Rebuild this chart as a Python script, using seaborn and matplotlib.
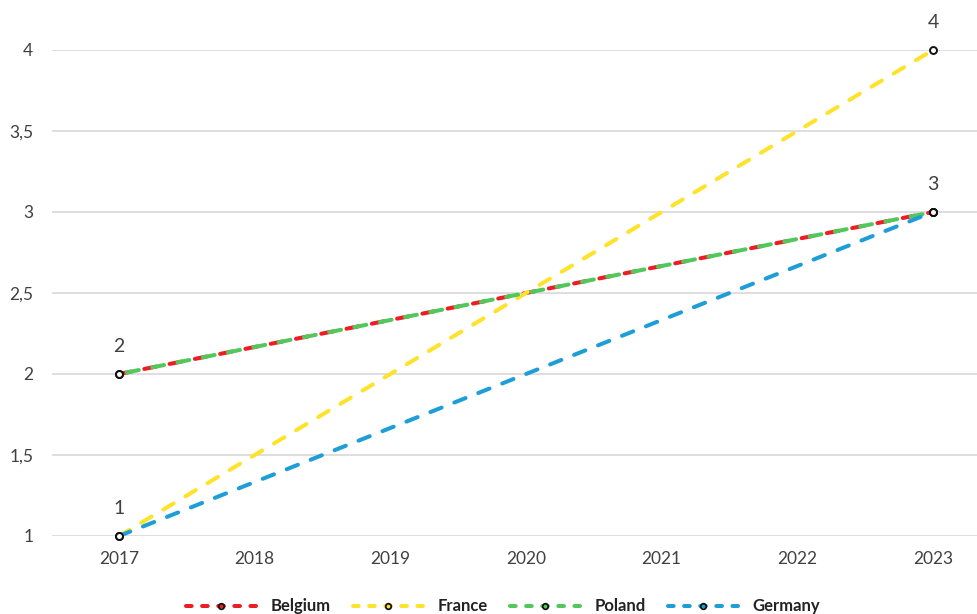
import matplotlib
matplotlib.use("Agg")
import matplotlib.pyplot as plt
from matplotlib.lines import Line2D
import seaborn as sns
import pandas as pd

years = [2017, 2023]
belgium = [2, 3]
france = [1, 4]
poland = [2, 3]
germany = [1, 3]
countries = ["Belgium", "France", "Poland", "Germany"]
colors = {"Belgium": "#EE1C25", "France": "#FFE22A", "Poland": "#52C85C", "Germany": "#1E9ED6"}
yticks = [1, 1.5, 2, 2.5, 3, 3.5, 4]

series = {"Belgium": belgium, "France": france, "Poland": poland, "Germany": germany}
rows = []
for c in countries:
    for y, v in zip(years, series[c]):
        rows.append({"country": c, "year": y, "value": v})
df = pd.DataFrame(rows)

sns.set_theme(style="white")
plt.rcParams["font.family"] = ["Lato", "DejaVu Sans"]

fig = plt.figure(figsize=(9.77, 6.14), dpi=100)
ax = fig.add_axes([52 / 977, 78 / 614, 1 - 52 / 977, (536 - 50) / 614])

lw = 2.9
dash = (3.0, 3.4)
sns.lineplot(data=df, x="year", y="value", hue="country", hue_order=countries,
             palette=colors, style="country", style_order=countries,
             dashes={c: dash for c in countries}, markers={c: "o" for c in countries},
             markersize=5, markeredgecolor="#111111", markeredgewidth=1.4,
             markerfacecolor="white", linewidth=lw, ax=ax, legend=False, zorder=3)

# shift the Poland dashes so it alternates with Belgium on the shared segment
pol_rgb = matplotlib.colors.to_rgb(colors["Poland"])
for line in ax.get_lines():
    if matplotlib.colors.to_rgb(line.get_color()) == pol_rgb:
        line.set_linestyle((4.4, dash))
    line.set_dash_capstyle("round")
    line.set_clip_on(False)

ax.set_xlim(2016.506, 2023.324)
ax.set_ylim(1, 4)
ax.set_yticks(yticks)
ax.set_yticklabels([f"{t:g}".replace(".", ",") for t in yticks])
ax.set_xticks(range(2017, 2024))
ax.yaxis.grid(True, color="#d4d4d4", linewidth=1.1)
ax.xaxis.grid(False)
for s in ax.spines.values():
    s.set_visible(False)
ax.tick_params(axis="y", length=0, pad=13.5, labelsize=12.5, labelcolor="#404040")
ax.tick_params(axis="x", length=0, pad=11, labelsize=12.5, labelcolor="#404040")
ax.set_xlabel("")
ax.set_ylabel("")

# value labels at the end points
seen = set()
for c in countries:
    for y, v in zip(years, series[c]):
        if (y, v) in seen:
            continue
        seen.add((y, v))
        ax.annotate(f"{v:g}", (y, v), xytext=(0, 13.5), textcoords="offset points",
                    ha="center", va="bottom", fontsize=14, color="#404040",
                    annotation_clip=False)

handles = [Line2D([0], [0], color=colors[c], linewidth=lw, linestyle=(0, (1.4, 2.6)),
                  dash_capstyle="round", marker="o", markersize=4,
                  markeredgecolor="#111111", markerfacecolor="none",
                  markeredgewidth=1.3) for c in countries]
leg = fig.legend(handles, countries, loc="lower center", ncol=4, frameon=False,
                 bbox_to_anchor=(0.515, -0.025), handlelength=4.2, handletextpad=0.9,
                 columnspacing=1.3, prop={"size": 12, "weight": "bold"})
for t in leg.get_texts():
    t.set_color("#222222")

fig.savefig("out.png", dpi=100)
